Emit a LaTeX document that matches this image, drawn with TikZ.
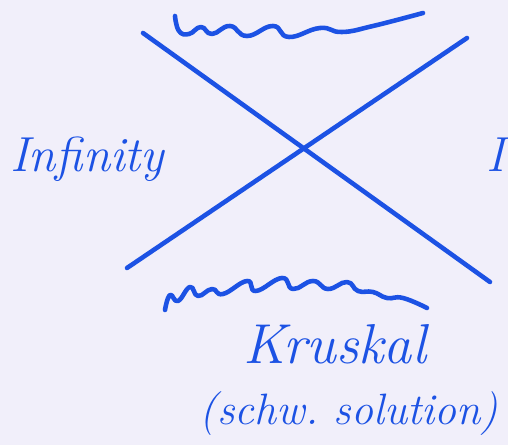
\documentclass[tikz,border=0pt]{standalone}
\usepackage{xcolor}
\usepackage{tikz}
\definecolor{ink}{RGB}{28, 82, 228}
\definecolor{paper}{RGB}{241, 239, 250}

\tikzset{
  inkline/.style={draw=ink, line width=2.6pt, line cap=round, line join=round},
  inktext/.style={text=ink, font=\itshape, inner sep=0pt}
}

\begin{document}
\begin{tikzpicture}[x=0.02cm, y=-0.02cm]
\fill[paper] (0,0) rectangle (508,445);
\useasboundingbox (0,0) rectangle (508,445);
\clip (0,0) rectangle (508,445);

% the two horizons
\coordinate (tl) at (143,33);
\coordinate (br) at (490,282);
\coordinate (tr) at (467,38);
\coordinate (bl) at (127,268);
\draw[inkline] (tl) -- (br);
\draw[inkline] (tr) -- (bl);

% singularities
\draw[inkline] plot[smooth, tension=0.8] coordinates {(175,16) (179,31) (189,34) (201,27) (212,34) (230,26) (247,36) (273,26) (289,37) (320,28) (342,32) (373,26) (423,13)};
\draw[inkline] plot[smooth, tension=0.8] coordinates {(165,310) (170,295) (178,301) (190,287) (198,296) (212,289) (223,294) (247,281) (256,291) (282,278) (293,289) (313,281) (328,289) (347,282) (358,291) (373,292) (387,298) (403,298) (427,308)};

\node[inktext, font=\itshape\fontsize{28}{32}\selectfont, anchor=base west] (left) at (10,172) {Infinity};
\node[inktext, font=\itshape\fontsize{28}{32}\selectfont, anchor=base west] (right) at (486,172) {I};

\node[inktext, font=\itshape\fontsize{32}{36}\selectfont, anchor=base] (kruskal) at (335,364) {Kruskal};
\node[inktext, font=\itshape\fontsize{25}{28}\selectfont, anchor=base] (schw) at (349,425) {(schw.\ solution)};
\end{tikzpicture}
\end{document}
